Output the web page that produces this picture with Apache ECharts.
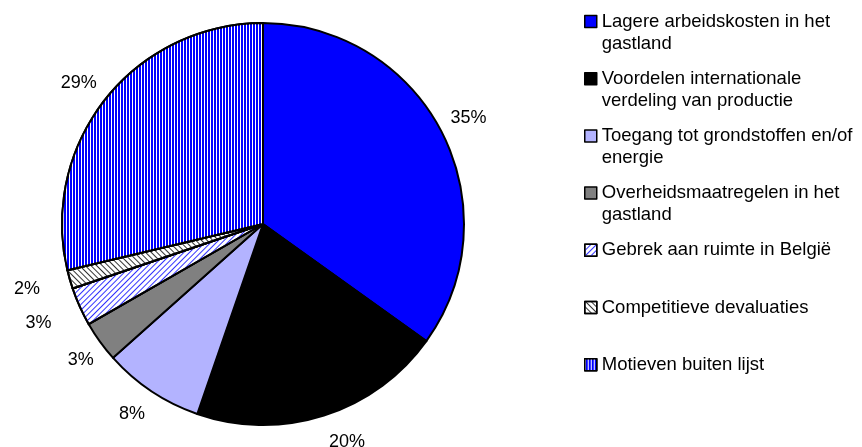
<!DOCTYPE html>
<html>
<head>
<meta charset="utf-8">
<script src="https://cdn.jsdelivr.net/npm/echarts@6/dist/echarts.min.js"></script>
<style>
html,body{margin:0;padding:0;background:#fff;}
#chart{width:862px;height:447px;}
</style>
</head>
<body>
<div id="chart"></div>
<script>
// ---- data ----
const categories = [
  'Lagere arbeidskosten in het gastland',
  'Voordelen internationale verdeling van productie',
  'Toegang tot grondstoffen en/of energie',
  'Overheidsmaatregelen in het gastland',
  'Gebrek aan ruimte in België',
  'Competitieve devaluaties',
  'Motieven buiten lijst'
];
const shares = [34.9, 20.4, 8.1, 3.3, 3.1, 1.5, 28.7];

// ---- styles ----
const fills = ['#0000ff', '#000000', '#b3b3ff', '#808080', '#ffffff', '#ffffff', '#0000ff'];
const decals = [
  null, null, null, null,
  { symbol: 'rect', symbolSize: 1, color: '#3333ff', dashArrayX: [1, 3], dashArrayY: [4, 0], rotation: Math.PI / 4 },
  { symbol: 'rect', symbolSize: 1, color: '#333333', dashArrayX: [1, 3], dashArrayY: [4, 0], rotation: -Math.PI / 4 },
  { symbol: 'rect', symbolSize: 1, color: '#ffffff', dashArrayX: [1, 2], dashArrayY: [4, 0], rotation: 0 }
];
// label nudges (px) to mimic the original's label placement
const labelNudge = [[0, 0], [14, -2], [-3, -2], [5, 1], [-14, 4], [-14, 1], [-3, 2]];
const FONT = '"Liberation Sans", Arial, sans-serif';
const LEGEND_FONT_SIZE = 18.5;
const LEGEND_TEXT_WIDTH = 262;

// measure legend text to know which entries wrap onto two lines
const measureCtx = document.createElement('canvas').getContext('2d');
measureCtx.font = LEGEND_FONT_SIZE + 'px ' + FONT;
function wraps(name) { return measureCtx.measureText(name).width > LEGEND_TEXT_WIDTH; }

const chart = echarts.init(document.getElementById('chart'), null, { renderer: 'canvas' });
chart.setOption({
  animation: false,
  backgroundColor: '#ffffff',
  legend: {
    orient: 'vertical',
    left: 584,
    top: -11.5,
    padding: 0,
    itemWidth: 12,
    itemHeight: 12,
    itemGap: -8.8,
    icon: 'rect',
    selectedMode: false,
    itemStyle: { borderColor: '#000', borderWidth: 1.5 },
    formatter: function (name) { return wraps(name) ? '\n' + name : name; },
    textStyle: {
      fontFamily: FONT,
      fontSize: LEGEND_FONT_SIZE,
      color: '#000',
      lineHeight: 22,
      width: LEGEND_TEXT_WIDTH,
      overflow: 'break',
      height: 66,
      backgroundColor: 'rgba(255,255,255,0)'
    },
    data: categories
  },
  series: [{
    type: 'pie',
    center: [263, 224],
    radius: 201,
    startAngle: 90,
    clockwise: true,
    avoidLabelOverlap: false,
    emphasis: { disabled: true },
    itemStyle: { borderColor: '#000', borderWidth: 2 },
    label: {
      show: true,
      position: 'outside',
      distanceToLabelLine: 0,
      fontFamily: FONT,
      fontSize: 18,
      color: '#000',
      formatter: function (p) { return Math.round(p.value) + '%'; }
    },
    labelLine: { show: false, length: 30, length2: 0 },
    labelLayout: function (p) {
      const n = labelNudge[p.dataIndex] || [0, 0];
      return { align: 'center', dx: n[0], dy: n[1] };
    },
    data: categories.map(function (name, i) {
      const it = { color: fills[i] };
      if (decals[i]) it.decal = decals[i];
      return { name: name, value: shares[i], itemStyle: it };
    })
  }]
});
</script>
</body>
</html>
